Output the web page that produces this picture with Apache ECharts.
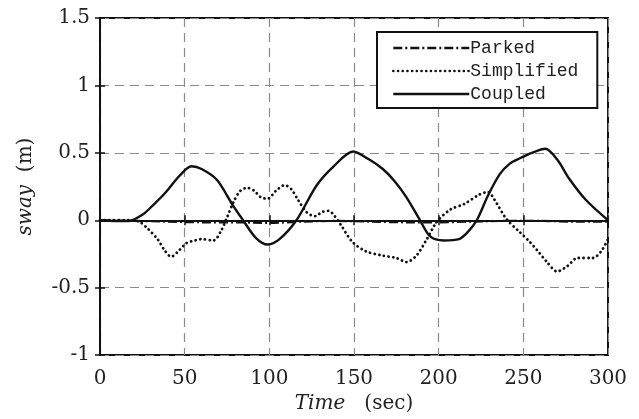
<!DOCTYPE html>
<html>
<head>
<meta charset="utf-8">
<script src="https://cdn.jsdelivr.net/npm/echarts@6/dist/echarts.min.js"></script>
<style>
  html, body { margin: 0; padding: 0; background: #fff; }
  #main { width: 639px; height: 419px; }
</style>
</head>
<body>
<div id="main"></div>
<script>
// 时间 (sec) / sway (m)
var parkedTime = [0, 20, 40, 60, 80, 100, 120, 140, 160, 180, 200, 220, 240, 260, 280, 300];
var parkedSway = [0, -0.005, -0.01, -0.015, -0.015, -0.02, -0.01, -0.005, -0.01, -0.015, -0.015, -0.01, -0.005, -0.005, -0.01, -0.01];

var simplifiedTime = [0, 15, 23, 28, 34, 38, 42, 47, 51, 56, 60, 67, 71, 75, 79, 83, 87, 91, 95, 99,
  104, 109, 113, 117, 122, 127, 131, 135, 138, 142, 149, 157, 166, 175, 181, 187, 193, 199,
  207, 215, 224, 229, 234, 240, 248, 253, 258, 264, 270, 276, 282, 291, 296, 300];
var simplifiedSway = [0, 0, -0.01, -0.06, -0.14, -0.22, -0.27, -0.22, -0.17, -0.15, -0.14, -0.15, -0.09, 0.02, 0.14, 0.22, 0.24, 0.22, 0.17, 0.16,
  0.22, 0.26, 0.23, 0.15, 0.06, 0.03, 0.06, 0.07, 0.04, -0.03, -0.16, -0.23, -0.26, -0.28, -0.31, -0.26, -0.14, -0.01,
  0.08, 0.12, 0.19, 0.21, 0.13, 0.01, -0.09, -0.15, -0.22, -0.31, -0.38, -0.34, -0.28, -0.28, -0.23, -0.14];

var coupledTime = [0, 10, 17, 25, 32, 39, 47, 54, 60, 69, 78, 84.5, 92, 99, 106, 116, 128, 138, 149.5, 159,
  167, 174, 181, 189, 195, 203, 212, 217, 222.5, 229, 236, 242, 248, 255, 263, 270, 277, 287, 300];
var coupledSway = [0, -0.005, -0.005, 0.04, 0.12, 0.21, 0.33, 0.40, 0.38, 0.30, 0.12, 0, -0.13, -0.18, -0.14, 0, 0.26, 0.40, 0.51, 0.45,
  0.38, 0.29, 0.17, 0, -0.12, -0.15, -0.14, -0.09, 0, 0.18, 0.34, 0.42, 0.46, 0.50, 0.53, 0.45, 0.31, 0.15, 0];

var xTicks = { min: 0, max: 300, interval: 50 };
var yTicks = { min: -1, max: 1.5, interval: 0.5 };

function pairs(t, v) {
  return t.map(function (x, i) { return [x, v[i]]; });
}

var chart = echarts.init(document.getElementById('main'));

var gridDash = { color: '#8a8a8a', width: 1.2, type: [9, 6] };
var tickStyle = { show: true, inside: true, length: 5, lineStyle: { color: '#111', width: 1.5 } };
var serif = 'DejaVu Serif';

var option = {
  animation: false,
  backgroundColor: '#fff',
  grid: { left: 100, right: 31, top: 18, bottom: 62, show: true, borderColor: '#111', borderWidth: 2 },
  legend: {
    orient: 'vertical',
    left: 377,
    top: 32,
    padding: [7, 19, 5, 15],
    borderColor: '#111',
    borderWidth: 2,
    backgroundColor: '#fff',
    itemWidth: 76,
    itemHeight: 14,
    itemGap: 5,
    itemStyle: { opacity: 0 },
    lineStyle: { width: 2.6 },
    textStyle: { fontFamily: 'Liberation Mono', fontSize: 18, lineHeight: 17, color: '#222', padding: [0, 0, 0, -4] },
    data: ['Parked', 'Simplified', 'Coupled']
  },
  xAxis: [{
    type: 'value',
    min: xTicks.min, max: xTicks.max, interval: xTicks.interval,
    name: '{i|Time}   (sec)',
    nameLocation: 'middle',
    nameGap: 35,
    nameTextStyle: {
      fontFamily: serif, fontSize: 20, color: '#222',
      rich: { i: { fontFamily: serif, fontStyle: 'italic', fontSize: 20, color: '#222' } }
    },
    axisLine: { show: true, lineStyle: { color: '#111', width: 2 } },
    axisTick: tickStyle,
    axisLabel: { fontFamily: serif, fontSize: 20, color: '#222', margin: 14 },
    splitLine: { show: true, lineStyle: gridDash }
  }, {
    type: 'value', position: 'top',
    min: xTicks.min, max: xTicks.max, interval: xTicks.interval,
    axisLine: { show: false },
    axisTick: tickStyle,
    axisLabel: { show: false },
    splitLine: { show: false }
  }],
  yAxis: [{
    type: 'value',
    min: yTicks.min, max: yTicks.max, interval: yTicks.interval,
    name: '{i|sway}  (m)',
    nameLocation: 'middle',
    nameRotate: 90,
    nameGap: 64,
    nameTextStyle: {
      fontFamily: serif, fontSize: 20, color: '#222',
      rich: { i: { fontFamily: serif, fontStyle: 'italic', fontSize: 20, color: '#222' } }
    },
    axisLine: { show: true, lineStyle: { color: '#111', width: 2 } },
    axisTick: tickStyle,
    axisLabel: { fontFamily: serif, fontSize: 20, color: '#222', margin: 10 },
    splitLine: { show: true, lineStyle: gridDash }
  }, {
    type: 'value', position: 'right',
    min: yTicks.min, max: yTicks.max, interval: yTicks.interval,
    axisLine: { show: false },
    axisTick: tickStyle,
    axisLabel: { show: false },
    splitLine: { show: false }
  }],
  series: [
    {
      name: 'Parked', type: 'line', smooth: 0.3, symbol: 'none',
      data: pairs(parkedTime, parkedSway),
      lineStyle: { color: '#111', width: 2.2, type: [9, 3, 2, 3] },
      itemStyle: { color: '#111' }
    },
    {
      name: 'Simplified', type: 'line', smooth: 0.3, symbol: 'none',
      data: pairs(simplifiedTime, simplifiedSway),
      lineStyle: { color: '#111', width: 2.8, type: [0.1, 4.6], cap: 'round' },
      itemStyle: { color: '#111' }
    },
    {
      name: 'Coupled', type: 'line', smooth: 0.3, symbol: 'none',
      data: pairs(coupledTime, coupledSway),
      lineStyle: { color: '#111', width: 2.4 },
      itemStyle: { color: '#111' }
    }
  ]
};

chart.setOption(option);
</script>
</body>
</html>
